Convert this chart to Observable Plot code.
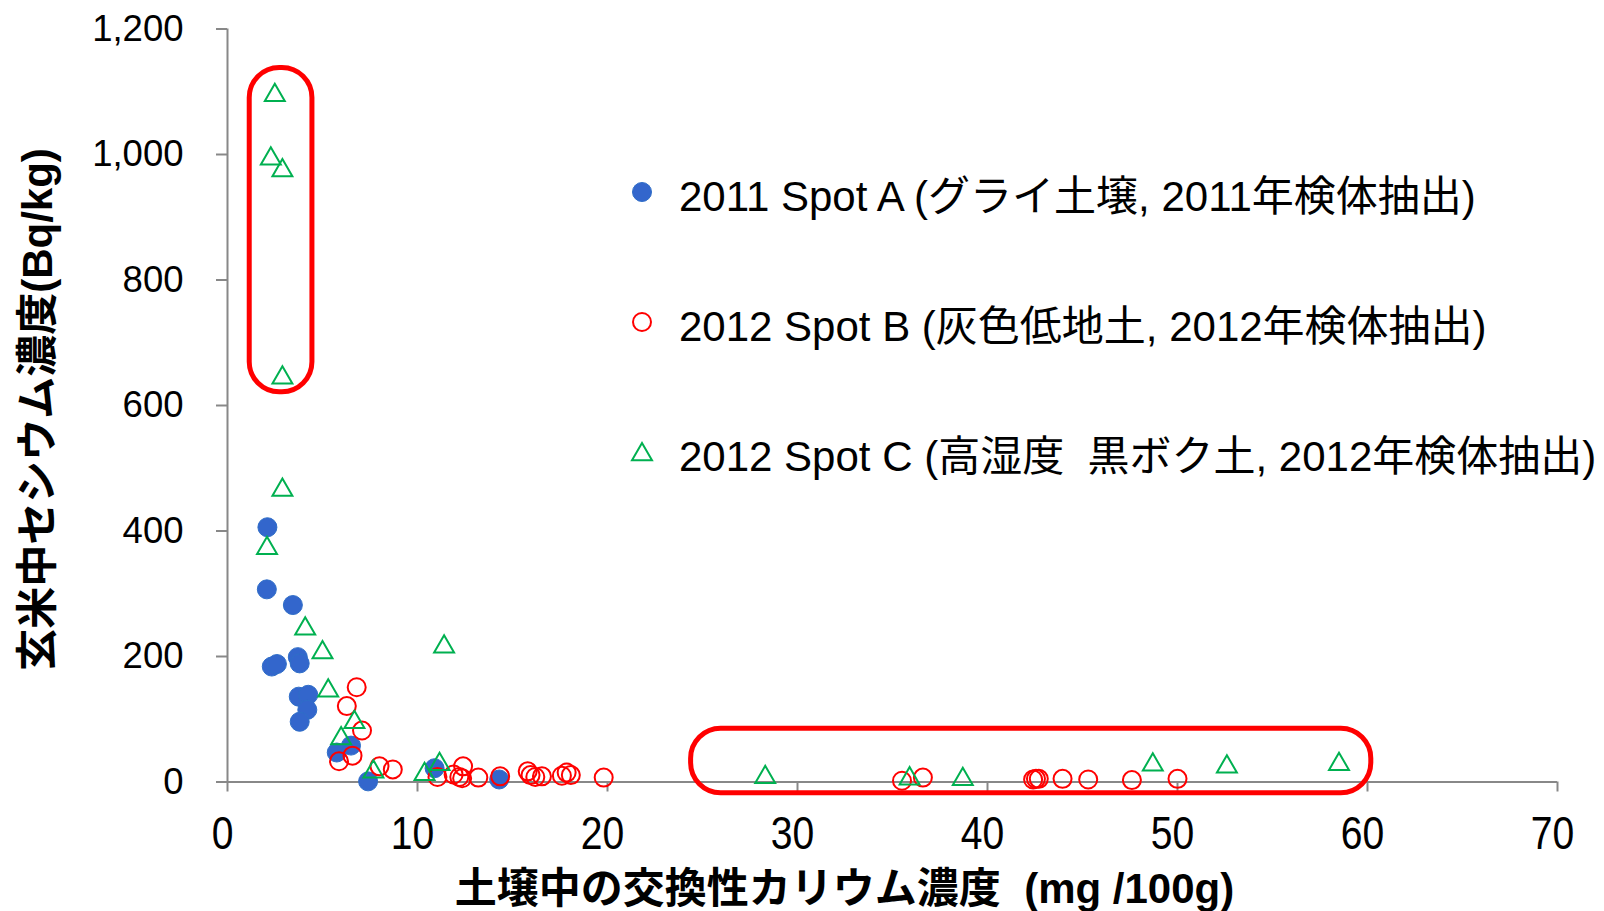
<!DOCTYPE html>
<html>
<head>
<meta charset="utf-8">
<script src="https://cdn.jsdelivr.net/npm/d3@7"></script>
<script src="https://cdn.jsdelivr.net/npm/@observablehq/plot@0.6"></script>
<style>
  html, body { margin: 0; padding: 0; background: #fff; }
  #wrap { position: relative; width: 1604px; height: 911px; overflow: hidden; }
  #legend { position: absolute; left: 632px; top: 127px; font-family: "Liberation Sans", Arial, "Noto Sans CJK JP", sans-serif; font-size: 42px; color: #000; white-space: nowrap; }
  #legend .row { display: flex; align-items: center; height: 130px; }
  #legend svg { width: 20px; height: 20px; margin-right: 27px; overflow: visible; }
</style>
</head>
<body>
<div id="wrap"></div>
<script>
// ---- data (exchangeable K in soil mg/100g, Cs in brown rice Bq/kg) ----
const seriesNames = [
  "2011 Spot A (グライ土壌, 2011年検体抽出)",
  "2012 Spot B (灰色低地土, 2012年検体抽出)",
  "2012 Spot C (高湿度\u00a0\u00a0黒ボク土, 2012年検体抽出)"
];
const spotA_K  = [2.1, 2.07, 3.44, 2.33, 2.6, 3.7, 3.8, 3.75, 4.25, 4.2, 3.8, 5.75, 6.5, 7.4, 10.9, 14.3];
const spotA_Cs = [406, 307, 282, 184, 188, 199, 189, 136, 139, 115, 96, 47, 58, 1, 22, 4];
const spotB_K  = [6.8, 6.28, 7.08, 5.87, 6.58, 8.0, 8.7, 11.05, 11.9, 12.4, 12.2, 12.35, 13.2, 14.35, 15.8, 15.95, 16.2, 16.55, 17.6, 17.85, 18.07, 19.8, 35.5, 36.6, 42.4, 42.55, 42.7, 43.95, 45.3, 47.6, 50.0];
const spotB_Cs = [151, 121, 82, 33, 42, 25, 20, 8, 12, 25, 8, 6, 7, 9, 17, 11, 8, 9, 10, 15, 11, 7, 2, 7, 4, 5, 5, 5, 4, 3, 5];
const spotC_K  = [2.49, 2.28, 2.89, 2.89, 2.89, 2.08, 4.09, 5.0, 11.4, 5.3, 6.68, 5.98, 7.68, 10.37, 11.16, 28.3, 35.9, 38.7, 48.7, 52.6, 58.5];
const spotC_Cs = [1099, 998, 979, 649, 470, 377, 249, 211, 220, 150, 100, 74, 21, 17, 33, 12, 10, 9, 32, 29, 33];
// highlighted groups (rounded boxes), in data units
const box_K1  = [1.17, 24.4];
const box_K2  = [4.47, 60.2];
const box_Cs1 = [621, -18];
const box_Cs2 = [1138, 85];
const xTicks = [0, 10, 20, 30, 40, 50, 60, 70];
const yTicks = [0, 200, 400, 600, 800, 1000, 1200];
const xTitle = "土壌中の交換性カリウム濃度\u00a0\u00a0(mg /100g)";
const yTitle = "玄米中セシウム濃度(Bq/kg)";

const zip = (xs, ys) => xs.map((x, i) => ({x, y: ys[i]}));
const A = zip(spotA_K, spotA_Cs);
const B = zip(spotB_K, spotB_Cs);
const C = zip(spotC_K, spotC_Cs);
const boxes = box_K1.map((k, i) => ({x1: k, x2: box_K2[i], y1: box_Cs1[i], y2: box_Cs2[i]}));

const FONT = '"Liberation Sans", Arial, "Noto Sans CJK JP", sans-serif';
const AXIS = "#888888";
const blue = "#3366cc", red = "#ff0000", green = "#00b050";

const chart = Plot.plot({
  width: 1604,
  height: 911,
  marginLeft: 227,
  marginRight: 47,
  marginTop: 28.5,
  marginBottom: 129.5,
  style: {fontFamily: FONT, background: "#fff", color: "#000", overflow: "visible"},
  x: {domain: [0, 70]},
  y: {domain: [0, 1200]},
  marks: [
    Plot.axisY({ticks: yTicks, tickSize: 11, tickPadding: 33, tickFormat: d3.format(","), fontSize: 36.5, stroke: AXIS, strokeWidth: 2, fill: "#000", label: null}),
    Plot.axisX({ticks: xTicks, tickSize: 10, tickPadding: 24, fontSize: 46, stroke: AXIS, strokeWidth: 2, fill: "#000", label: null}),
    Plot.ruleX([0], {stroke: AXIS, strokeWidth: 2}),
    Plot.ruleY([0], {stroke: AXIS, strokeWidth: 2}),
    Plot.dot(A, {x: "x", y: "y", r: 9.5, fill: blue, stroke: "#2f6ec8", strokeWidth: 1}),
    Plot.dot(B, {x: "x", y: "y", r: 9, fill: "none", stroke: red, strokeWidth: 2}),
    Plot.dot(C, {x: "x", y: "y", symbol: "triangle", r: 7.4, dy: 2.9, fill: "none", stroke: green, strokeWidth: 2}),
    Plot.rect(boxes, {x1: "x1", x2: "x2", y1: "y1", y2: "y2", fill: "none", stroke: red, strokeWidth: 5, rx: 30, ry: 30}),
    Plot.text([xTitle], {frameAnchor: "bottom", dx: -48, dy: 121, fontSize: 42, fontWeight: "bold", fill: "#000"}),
    Plot.text([yTitle], {frameAnchor: "left", textAnchor: "middle", rotate: -90, dx: -189, dy: 4, fontSize: 42, fontWeight: "bold", fill: "#000"})
  ]
});
const wrap = document.getElementById("wrap");
wrap.appendChild(chart);

// x tick labels in the reference are drawn slightly condensed and nudged left of their ticks
d3.select(chart).selectAll('g[aria-label="x-axis tick label"] text').each(function() {
  const t = this.getAttribute("transform") || "";
  this.setAttribute("transform", t + " translate(-5,0) scale(0.85,1)");
});

// legend (HTML, over the plot)
const legend = document.createElement("div");
legend.id = "legend";
const markers = [
  `<svg viewBox="-10 -10 20 20"><circle r="9.5" fill="${blue}" stroke="#2f6ec8" stroke-width="1"/></svg>`,
  `<svg viewBox="-10 -10 20 20"><circle r="9" fill="none" stroke="${red}" stroke-width="2"/></svg>`,
  `<svg viewBox="-10 -10 20 20"><path d="M0,-9L10,8.3L-10,8.3Z" fill="none" stroke="${green}" stroke-width="2"/></svg>`
];
seriesNames.forEach((name, i) => {
  const row = document.createElement("div");
  row.className = "row";
  row.innerHTML = markers[i] + `<span>${name}</span>`;
  legend.appendChild(row);
});
wrap.appendChild(legend);
</script>
</body>
</html>
